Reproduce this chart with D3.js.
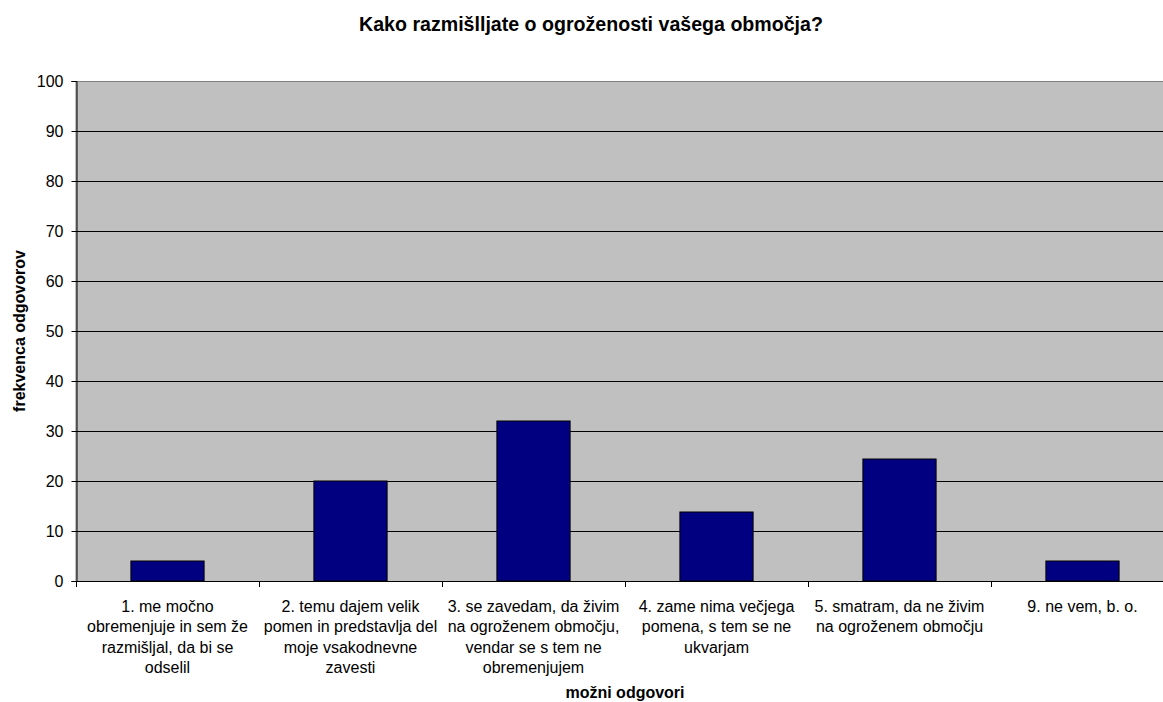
<!DOCTYPE html>
<html>
<head>
<meta charset="utf-8">
<script src="https://cdn.jsdelivr.net/npm/d3@7"></script>
<style>
  html, body { margin: 0; padding: 0; background: #fff; }
  svg { display: block; font-family: Arial, "Liberation Sans", sans-serif; }
</style>
</head>
<body>
<svg id="chart" width="1163" height="702"></svg>
<script>
const categories = [
  "1. me močno\nobremenjuje in sem že\nrazmišljal, da bi se\nodselil",
  "2. temu dajem velik\npomen in predstavlja del\nmoje vsakodnevne\nzavesti",
  "3. se zavedam, da živim\nna ogroženem območju,\nvendar se s tem ne\nobremenjujem",
  "4. zame nima večjega\npomena, s tem se ne\nukvarjam",
  "5. smatram, da ne živim\nna ogroženem območju",
  "9. ne vem, b. o."
];
const values = [4, 20, 32, 13.8, 24.4, 4];
const yTicks = [0, 10, 20, 30, 40, 50, 60, 70, 80, 90, 100];
const title = "Kako razmišlljate o ogroženosti vašega območja?";
const yTitle = "frekvenca odgovorov";
const xTitle = "možni odgovori";

const svg = d3.select("#chart");
const pLeft = 76, pTop = 81, pBottom = 581, pRight = 76 + 6 * 183;

const x = d3.scaleBand().domain(categories).range([pLeft, pRight])
  .paddingInner(0.6).paddingOuter(0.3);
const y = d3.scaleLinear().domain([0, 100]).range([pBottom, pTop]);

// plot background
svg.append("rect").attr("x", pLeft).attr("y", pTop + 0.5)
  .attr("width", pRight - pLeft).attr("height", pBottom - pTop)
  .attr("fill", "#c0c0c0").attr("stroke", "#808080").attr("stroke-width", 1);

// gridlines
svg.append("g").selectAll("line").data(yTicks.filter(d => d > 0 && d < 100)).join("line")
  .attr("x1", pLeft).attr("x2", pRight)
  .attr("y1", d => Math.round(y(d)) + 0.5).attr("y2", d => Math.round(y(d)) + 0.5)
  .attr("stroke", "#000").attr("stroke-width", 1);

// bars
svg.append("g").selectAll("rect").data(values).join("rect")
  .attr("x", (d, i) => x(categories[i]))
  .attr("y", d => y(d))
  .attr("width", x.bandwidth())
  .attr("height", d => y(0) - y(d))
  .attr("fill", "#000080").attr("stroke", "#000").attr("stroke-width", 1);

// y axis
const yAxis = d3.axisLeft(y).tickValues(yTicks).tickSize(5).tickPadding(8);
const gy = svg.append("g").attr("transform", `translate(${pLeft + 0.5},0)`).call(yAxis);
gy.select(".domain").attr("stroke", "#000");
gy.selectAll(".tick line").attr("stroke", "#000");
gy.selectAll(".tick text").attr("font-size", 16).attr("fill", "#000")
  .attr("font-family", "Arial, 'Liberation Sans', sans-serif");

// x axis line and ticks at band boundaries
const step = x.step();
const boundaries = d3.range(categories.length + 1).map(i => pLeft + i * step);
svg.append("line").attr("x1", pLeft).attr("x2", pRight)
  .attr("y1", pBottom + 0.5).attr("y2", pBottom + 0.5).attr("stroke", "#000");
svg.append("g").selectAll("line").data(boundaries).join("line")
  .attr("x1", d => Math.round(d) + 0.5).attr("x2", d => Math.round(d) + 0.5)
  .attr("y1", pBottom).attr("y2", pBottom + 6).attr("stroke", "#000");

// category labels
const lab = svg.append("g").attr("font-size", 16).attr("fill", "#000").attr("text-anchor", "middle");
categories.forEach(c => {
  const cx = x(c) + x.bandwidth() / 2;
  const t = lab.append("text").attr("x", cx).attr("y", 612);
  c.split("\n").forEach((line, j) => {
    t.append("tspan").attr("x", cx).attr("y", 612 + j * 20.3).text(line);
  });
});

// titles
svg.append("text").attr("x", 591).attr("y", 31).attr("text-anchor", "middle")
  .attr("font-size", 19.6).attr("font-weight", "bold").text(title);
svg.append("text").attr("transform", `translate(25,${(pTop + pBottom) / 2}) rotate(-90)`)
  .attr("text-anchor", "middle").attr("font-size", 16).attr("font-weight", "bold").text(yTitle);
svg.append("text").attr("x", (pLeft + pRight) / 2).attr("y", 698).attr("text-anchor", "middle")
  .attr("font-size", 16).attr("font-weight", "bold").text(xTitle);
</script>
</body>
</html>
